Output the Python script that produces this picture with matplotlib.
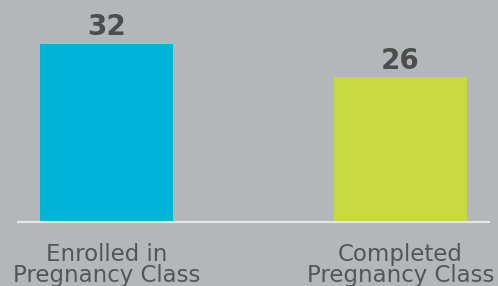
import matplotlib.pyplot as plt

# data
categories = ["Enrolled in\nPregnancy Class", "Completed\nPregnancy Class"]
values = [32, 26]
colors = ["#00b4d7", "#c6d93e"]

bg = "#b4b7b9"
text_color = "#4d4d4d"

fig = plt.figure(figsize=(4.98, 2.86), dpi=100, facecolor=bg)
ax = fig.add_axes([18 / 498, 64 / 286, 471 / 498, 222 / 286])
ax.set_facecolor(bg)

x = range(len(values))
bars = ax.bar(x, values, width=0.452, color=colors)

for b, v in zip(bars, values):
    ax.annotate(str(v), (b.get_x() + b.get_width() / 2, v),
                xytext=(0, 2), textcoords="offset points",
                ha="center", va="bottom", fontsize=20, fontweight="bold",
                color=text_color)

ax.set_xlim(-0.301, 1.301)
ax.set_ylim(0, 222 / 5.56)

for s in ["top", "right", "left"]:
    ax.spines[s].set_visible(False)
ax.spines["bottom"].set_color("#e6e6e6")
ax.spines["bottom"].set_linewidth(1.5)

ax.set_yticks([])
ax.set_xticks(list(x))
ax.set_xticklabels(categories, fontsize=16.5, color="#555555", linespacing=0.9)
ax.tick_params(axis="x", length=0, pad=15)

fig.savefig("out.png", dpi=100, facecolor=bg)
